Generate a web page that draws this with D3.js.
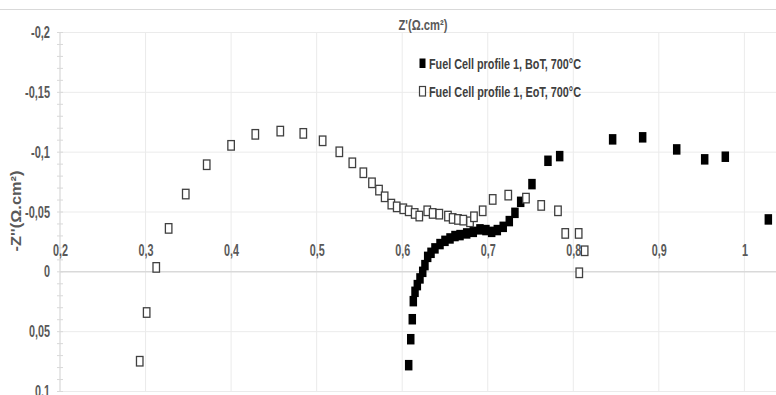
<html>
  <head>
    <script src="https://cdn.jsdelivr.net/npm/d3@7"></script>
    <style>
      body { margin: 0; background: #fff; }
      text { font-family: "Liberation Sans Narrow", "Liberation Sans", Arial, sans-serif; fill: #595959; }
    </style>
  </head>
  <body>
    <div id="main"></div>
  <script>
    // series: Z' (x) and the plotted imaginary value (y)
    var botX = [0.6076, 0.610, 0.6118, 0.613, 0.615, 0.6177, 0.6208, 0.624, 0.6266, 0.6298,
      0.6337, 0.6383, 0.6442, 0.650, 0.6559, 0.6617, 0.6676, 0.6754, 0.6831, 0.6909,
      0.6979, 0.7046, 0.7112, 0.7181, 0.7252, 0.7318, 0.7385, 0.7517, 0.7704, 0.7841,
      0.846, 0.8811, 0.9209, 0.9536, 0.9777, 1.028];
    var botY = [0.078, 0.0563, 0.0396, 0.0245, 0.0167, 0.0111, 0.0055, 0.0, -0.0056, -0.0125,
      -0.0159, -0.0196, -0.0232, -0.0259, -0.0279, -0.0299, -0.0307, -0.0321, -0.0334, -0.0355,
      -0.0349, -0.0334, -0.0349, -0.0376, -0.0424, -0.0493, -0.0585, -0.0733, -0.0928, -0.0967,
      -0.1107, -0.1124, -0.1023, -0.094, -0.0962, -0.0438];

    var eotX = [0.2932, 0.3013, 0.3125, 0.327, 0.347, 0.3715, 0.400, 0.4283, 0.4575, 0.4844,
      0.507, 0.5265, 0.5417, 0.5546, 0.5647, 0.5729, 0.5795, 0.5873, 0.5936, 0.6013,
      0.6076, 0.6146, 0.620, 0.6293, 0.6356, 0.6434, 0.6535, 0.659, 0.6652, 0.6714,
      0.6793, 0.6839, 0.6941, 0.7058, 0.724, 0.7447, 0.7625, 0.7821, 0.7906, 0.8063,
      0.8133, 0.807];
    var eotY = [0.0747, 0.034, -0.0037, -0.0363, -0.065, -0.0895, -0.1057, -0.1149, -0.1176, -0.1157,
      -0.1095, -0.1003, -0.0911, -0.0828, -0.0744, -0.0683, -0.0627, -0.0566, -0.0543, -0.0527,
      -0.051, -0.0488, -0.0466, -0.051, -0.0488, -0.0482, -0.0466, -0.0446, -0.0438, -0.0432,
      -0.0418, -0.046, -0.051, -0.0605, -0.0641, -0.0616, -0.0555, -0.051, -0.0321, -0.0321,
      -0.0176, 0.0008];

    var seriesNames = ['Fuel Cell profile 1, BoT, 700°C', 'Fuel Cell profile 1, EoT, 700°C'];
    var xTicks = [0.2, 0.3, 0.4, 0.5, 0.6, 0.7, 0.8, 0.9, 1];
    var yTicks = [-0.2, -0.15, -0.1, -0.05, 0, 0.05, 0.1];

    var svgWidth = 776;
    var svgHeight = 395;

    var x = d3.scaleLinear().domain([0.2, 1.04]).range([60, 778.6]);
    var y = d3.scaleLinear().domain([-0.2, 0.1]).range([32.5, 391.5]);

    // decimal comma, plain hyphen minus
    var fmt = function(d) { return String(+d.toFixed(2)).replace('.', ','); };
    // condensed label width: digits 6px, comma 3px, minus 4px
    var labelWidth = function(s) {
      return s.split('').reduce(function(w, c) { return w + (c === ',' ? 3 : c === '-' ? 4 : 6); }, 0);
    };

    var svg = d3.select('#main')
      .append('svg')
      .attr('width', svgWidth)
      .attr('height', svgHeight);

    // chart frame top edge
    svg.append('line')
      .attr('x1', 0).attr('x2', svgWidth)
      .attr('y1', 9.5).attr('y2', 9.5)
      .attr('stroke', '#d9d9d9');

    // gridlines
    svg.append('g').selectAll('line')
      .data(xTicks)
      .enter().append('line')
      .attr('x1', function(d) { return x(d); })
      .attr('x2', function(d) { return x(d); })
      .attr('y1', y(-0.2)).attr('y2', y(0.1))
      .attr('stroke', '#ebebeb');

    svg.append('g').selectAll('line')
      .data(yTicks)
      .enter().append('line')
      .attr('x1', x(0.2)).attr('x2', svgWidth)
      .attr('y1', function(d) { return y(d); })
      .attr('y2', function(d) { return y(d); })
      .attr('stroke', function(d) { return d === 0 ? '#d9d9d9' : '#ebebeb'; })
      .attr('stroke-width', function(d) { return d === 0 ? 1.5 : 1; });

    // y axis line + minor ticks
    svg.append('line')
      .attr('x1', x(0.2)).attr('x2', x(0.2))
      .attr('y1', y(-0.2)).attr('y2', y(0.1))
      .attr('stroke', '#d9d9d9');
    svg.append('g').selectAll('line')
      .data(y.ticks(30))
      .enter().append('line')
      .attr('x1', 57).attr('x2', 63)
      .attr('y1', function(d) { return y(d); })
      .attr('y2', function(d) { return y(d); })
      .attr('stroke', '#d9d9d9');

    // y tick labels
    var yAxis = svg.append('g')
      .attr('transform', 'translate(' + x(0.2) + ',0)')
      .call(d3.axisLeft(y).tickValues(yTicks).tickFormat(fmt).tickSize(0).tickPadding(10));
    yAxis.select('.domain').remove();

    // x tick labels sit just above the zero line
    var xAxis = svg.append('g')
      .attr('transform', 'translate(0,' + y(0) + ')')
      .call(d3.axisTop(x).tickValues(xTicks).tickFormat(fmt).tickSize(0).tickPadding(16));
    xAxis.select('.domain').remove();

    svg.selectAll('.tick text')
      .style('font-family', '"Liberation Sans Narrow", "Liberation Sans", Arial, sans-serif')
      .style('font-size', '16px')
      .style('font-weight', 'bold')
      .attr('fill', '#595959')
      .attr('textLength', function(d) { return labelWidth(fmt(d)); })
      .attr('lengthAdjust', 'spacingAndGlyphs');

    // axis titles
    svg.append('text')
      .attr('x', 423).attr('y', 30)
      .attr('text-anchor', 'middle')
      .attr('textLength', 49)
      .attr('lengthAdjust', 'spacingAndGlyphs')
      .style('font-size', '15px').style('font-weight', 'bold')
      .text("Z'(Ω.cm²)");

    svg.append('text')
      .attr('transform', 'translate(21,211) rotate(-90)')
      .attr('text-anchor', 'middle')
      .attr('textLength', 81)
      .attr('lengthAdjust', 'spacingAndGlyphs')
      .style('font-size', '14px').style('font-weight', 'bold')
      .text("-Z''(Ω.cm²)");

    // BoT: filled squares
    var bot = botX.map(function(v, i) { return { x: v, y: botY[i] }; });
    svg.append('g').selectAll('rect')
      .data(bot)
      .enter().append('rect')
      .attr('x', function(d) { return x(d.x) - 3.75; })
      .attr('y', function(d) { return y(d.y) - 5.25; })
      .attr('width', 7.5).attr('height', 10.5)
      .attr('fill', '#000');

    // EoT: open squares
    var eot = eotX.map(function(v, i) { return { x: v, y: eotY[i] }; });
    svg.append('g').selectAll('rect')
      .data(eot)
      .enter().append('rect')
      .attr('x', function(d) { return x(d.x) - 3.25; })
      .attr('y', function(d) { return y(d.y) - 4.75; })
      .attr('width', 6.5).attr('height', 9.5)
      .attr('fill', '#fff')
      .attr('stroke', '#404040')
      .attr('stroke-width', 1.3);

    // legend
    var legend = svg.append('g').selectAll('g')
      .data(seriesNames)
      .enter().append('g')
      .attr('transform', function(d, i) { return 'translate(419,' + (58 + i * 28) + ')'; });
    legend.append('rect')
      .attr('x', 0.5)
      .attr('y', 0.5)
      .attr('width', 6).attr('height', 9.5)
      .attr('fill', function(d, i) { return i ? '#fff' : '#000'; })
      .attr('stroke', function(d, i) { return i ? '#404040' : 'none'; })
      .attr('stroke-width', 1.2);
    legend.append('text')
      .attr('x', 10).attr('y', 11)
      .attr('textLength', 152)
      .attr('lengthAdjust', 'spacingAndGlyphs')
      .style('font-size', '15.5px').style('font-weight', 'bold')
      .style('fill', '#404040')
      .text(function(d) { return d; });
  </script>
  </body>
</html>
